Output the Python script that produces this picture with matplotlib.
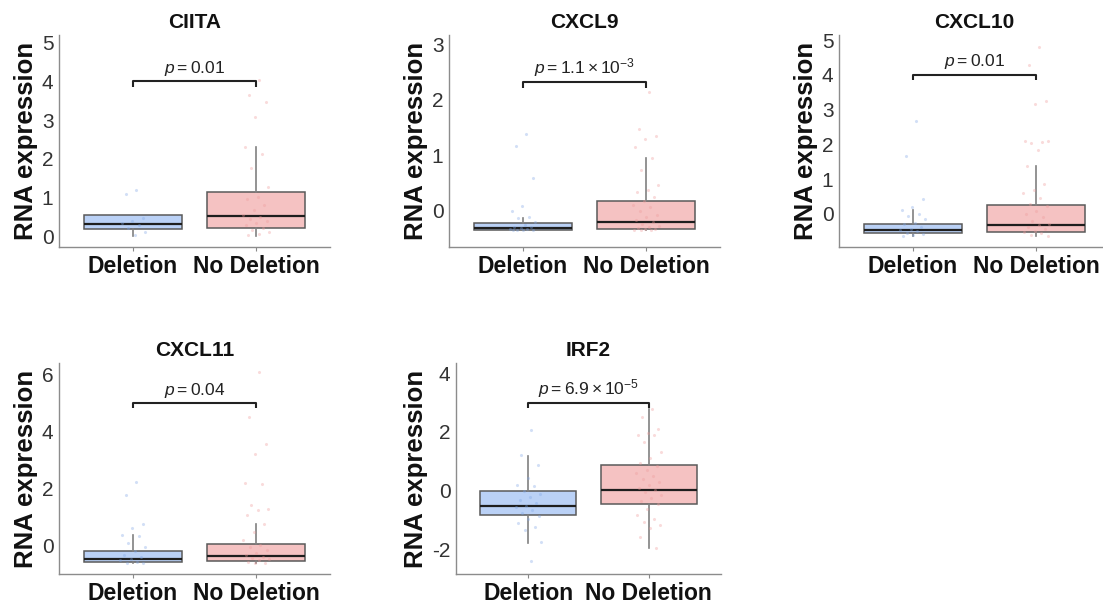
import matplotlib
matplotlib.use("Agg")
import matplotlib.pyplot as plt
import numpy as np

plt.rcParams['font.family'] = ['Liberation Sans', 'DejaVu Sans']
plt.rcParams['mathtext.fontset'] = 'custom'
plt.rcParams['mathtext.rm'] = 'Liberation Sans'
plt.rcParams['mathtext.it'] = 'Liberation Sans:italic'
plt.rcParams['mathtext.bf'] = 'Liberation Sans:bold'
plt.rcParams['axes.unicode_minus'] = False

# ---------------- data ----------------
GENES = ['CIITA', 'CXCL9', 'CXCL10', 'CXCL11', 'IRF2']
GROUPS = ['Deletion', 'No Deletion']
P_LABELS = [r'$\mathit{p} = 0.01$',
            r'$\mathit{p} = 1.1 \times 10^{-3}$',
            r'$\mathit{p} = 0.01$',
            r'$\mathit{p} = 0.04$',
            r'$\mathit{p} = 6.9 \times 10^{-5}$']
BRACKET_Y = [4.0, 2.32, 4.0, 5.0, 2.98]
Y_TICKS = [[0, 1, 2, 3, 4, 5], [0, 1, 2, 3], [0, 1, 2, 3, 4, 5], [0, 2, 4, 6], [-2, 0, 2, 4]]
Y_LIMS = [(-0.28, 5.2), (-0.67, 3.18), (-0.95, 5.15), (-0.98, 6.4), (-2.82, 4.34)]

# box stats: [whisker low, q1, median, q3, whisker high]
BOX_DELETION = [
    [0.0, 0.18, 0.31, 0.54, 0.54],
    [-0.37, -0.36, -0.33, -0.23, -0.15],
    [-0.63, -0.55, -0.45, -0.28, 0.12],
    [-0.60, -0.55, -0.47, -0.17, 0.38],
    [-1.76, -0.82, -0.50, 0.00, 1.18],
]
BOX_NODELETION = [
    [0.0, 0.21, 0.52, 1.13, 2.31],
    [-0.37, -0.35, -0.22, 0.17, 0.95],
    [-0.64, -0.53, -0.33, 0.26, 1.37],
    [-0.60, -0.51, -0.36, 0.06, 0.76],
    [-1.95, -0.46, 0.02, 0.87, 2.77],
]

PTS_DELETION = [
    [1.19, 1.10, 0.46, 0.40, 0.33, 0.28, 0.22, 0.11, 0.02],
    [1.39, 1.17, 0.59, 0.08, -0.02, -0.12, -0.15, -0.22, -0.27, -0.30, -0.31,
     -0.33, -0.34, -0.35, -0.36, -0.36, -0.37, -0.37],
    [2.67, 1.67, 0.42, 0.21, 0.12, 0.0, -0.05, -0.15, -0.25, -0.30, -0.38,
     -0.42, -0.45, -0.50, -0.55, -0.58, -0.60, -0.63],
    [2.24, 1.80, 0.77, 0.62, 0.38, 0.36, 0.10, -0.05, -0.18, -0.30, -0.40,
     -0.45, -0.50, -0.55, -0.58, -0.60],
    [2.06, 1.21, 0.87, 0.44, 0.20, 0.18, 0.0, -0.10, -0.20, -0.30, -0.40,
     -0.50, -0.55, -0.65, -0.75, -0.85, -0.95, -1.10, -1.22, -1.33, -1.75, -2.37],
]
PTS_NODELETION = [
    [4.03, 3.66, 3.47, 3.07, 2.31, 2.12, 1.75, 1.27, 1.00, 0.95, 0.80, 0.67,
     0.55, 0.50, 0.45, 0.38, 0.34, 0.28, 0.22, 0.15, 0.11, 0.06, 0.03],
    [2.14, 1.47, 1.35, 1.30, 1.15, 0.95, 0.73, 0.45, 0.36, 0.33, 0.24, 0.17,
     0.10, 0.05, -0.02, -0.08, -0.12, -0.18, -0.22, -0.25, -0.28, -0.30,
     -0.32, -0.34, -0.35, -0.36, -0.37, -0.37],
    [4.80, 4.30, 3.26, 3.16, 2.10, 2.08, 2.05, 2.10, 1.84, 1.37, 0.85, 0.70,
     0.61, 0.47, 0.30, 0.22, 0.10, 0.0, -0.10, -0.20, -0.28, -0.33, -0.38,
     -0.42, -0.48, -0.52, -0.56, -0.60, -0.64],
    [6.08, 4.51, 3.55, 3.20, 2.19, 2.17, 1.43, 1.28, 1.26, 1.08, 0.76, 0.50,
     0.21, 0.05, -0.05, -0.15, -0.25, -0.32, -0.38, -0.42, -0.47, -0.50,
     -0.55, -0.58, -0.60],
    [2.79, 2.51, 2.11, 1.95, 1.90, 1.88, 1.66, 1.32, 1.10, 0.95, 0.85, 0.70,
     0.60, 0.50, 0.40, 0.30, 0.20, 0.10, 0.02, -0.05, -0.15, -0.25, -0.35,
     -0.45, -0.60, -0.82, -0.95, -1.04, -1.16, -1.25, -1.56, -1.95],
]

# ---------------- layout / style ----------------
W, H = 1103, 605
AX_PX = [(59, 35, 271, 212), (449, 35, 271, 212), (839, 35, 271, 212),
         (59, 363, 271, 211), (456, 363, 265, 211)]
FILL = ['#bad1f6', '#f5c2c2']
PT_COL = ['#7fa6e6', '#ee9a9a']
EDGE = '#5a5a5a'

fig = plt.figure(figsize=(W / 100, H / 100), dpi=100)


def jitter(n, width=0.11):
    return np.array([(((i + 1) * 0.6180339887) % 1.0 - 0.5) * 2 * width for i in range(n)])


for i, gene in enumerate(GENES):
    l, t, w, h = AX_PX[i]
    ax = fig.add_axes([l / W, 1 - (t + h) / H, w / W, h / H])
    stats = []
    for b in (BOX_DELETION[i], BOX_NODELETION[i]):
        stats.append(dict(whislo=b[0], q1=b[1], med=b[2], q3=b[3], whishi=b[4], fliers=[]))
    bp = ax.bxp(stats, positions=[1, 2], widths=0.8, patch_artist=True,
                showcaps=False, showfliers=False,
                boxprops=dict(edgecolor=EDGE, linewidth=1.1),
                medianprops=dict(color='#1e1e1e', linewidth=1.6),
                whiskerprops=dict(color='#808080', linewidth=1.2))
    for patch, fc in zip(bp['boxes'], FILL):
        patch.set_facecolor(fc)
    for k, pts in enumerate((PTS_DELETION[i], PTS_NODELETION[i])):
        pts = np.asarray(pts)
        ax.scatter(k + 1 + jitter(len(pts)), pts, s=5, color=PT_COL[k],
                   alpha=0.35, linewidths=0, zorder=4)

    ylo, yhi = Y_LIMS[i]
    ax.set_ylim(ylo, yhi)
    ax.set_xlim(0.4, 2.6)
    by = BRACKET_Y[i]
    tip = 0.025 * (yhi - ylo)
    ax.plot([1, 1, 2, 2], [by - tip, by, by, by - tip], color='#222222', lw=1.5,
            solid_capstyle='butt', zorder=5)
    ax.annotate(P_LABELS[i], xy=(1.5, by), xytext=(0, 2.5), textcoords='offset points',
                ha='center', va='bottom', fontsize=12.5, color='#222222')

    ax.set_yticks(Y_TICKS[i])
    ax.set_yticklabels([str(v) for v in Y_TICKS[i]])
    ax.set_xticks([1, 2])
    ax.set_xticklabels(GROUPS, fontsize=16.5, fontweight='bold', color='#111111')
    ax.tick_params(axis='y', length=0, pad=4, labelsize=15, labelcolor='#333333')
    ax.tick_params(axis='x', length=3, width=0.8, color='#888888', pad=2.5)
    for s in ('top', 'right'):
        ax.spines[s].set_visible(False)
    for s in ('left', 'bottom'):
        ax.spines[s].set_color('#8c8c8c')
        ax.spines[s].set_linewidth(1.0)
    ax.set_ylabel('RNA expression', fontsize=18.5, fontweight='bold', labelpad=3,
                  color='#111111')
    ax.set_title(gene, fontsize=15, fontweight='bold', pad=5, color='#111111')
    ax.set_facecolor('none')

fig.savefig('out.png', dpi=100, facecolor='white')
